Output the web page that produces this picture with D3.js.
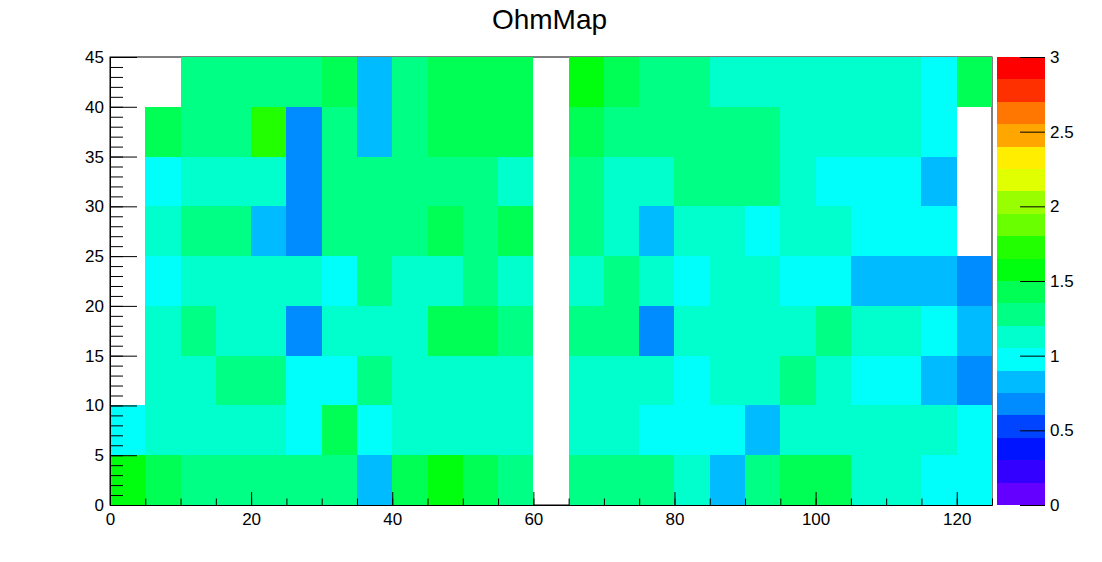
<!DOCTYPE html>
<html><head><meta charset="utf-8">
<script src="https://cdn.jsdelivr.net/npm/d3@7"></script>
<style>body{margin:0;background:#fff;} text{font-family:"Liberation Sans",Arial,Helvetica,sans-serif;}</style>
</head><body>
<svg id="c" width="1102" height="562"></svg>
<script>
// Bin edges
const xEdges = [0,5,10,15,20,25,30,35,40,45,50,55,60,65,70,75,80,85,90,95,100,105,110,115,120,125];
const yEdges = [0,5,10,15,20,25,30,35,40,45];
// Bin contents, one array per y-row (row 0 = y 0..5); 0 = empty bin
const row0 = [1.58,1.42,1.28,1.28,1.28,1.28,1.28,0.82,1.42,1.58,1.42,1.28,0,1.28,1.28,1.28,1.12,0.82,1.28,1.42,1.42,1.12,1.12,0.98,0.98];
const row1 = [0.98,1.12,1.12,1.12,1.12,0.98,1.42,0.98,1.12,1.12,1.12,1.12,0,1.12,1.12,0.98,0.98,0.98,0.82,1.12,1.12,1.12,1.12,1.12,0.98];
const row2 = [0,1.12,1.12,1.28,1.28,0.98,0.98,1.28,1.12,1.12,1.12,1.12,0,1.12,1.12,1.12,0.98,1.12,1.12,1.28,1.12,0.98,0.98,0.82,0.68];
const row3 = [0,1.12,1.28,1.12,1.12,0.68,1.12,1.12,1.12,1.42,1.42,1.28,0,1.28,1.28,0.68,1.12,1.12,1.12,1.12,1.28,1.12,1.12,0.98,0.82];
const row4 = [0,0.98,1.12,1.12,1.12,1.12,0.98,1.28,1.12,1.12,1.28,1.12,0,1.12,1.28,1.12,0.98,1.12,1.12,0.98,0.98,0.82,0.82,0.82,0.68];
const row5 = [0,1.12,1.28,1.28,0.82,0.68,1.28,1.28,1.28,1.42,1.28,1.42,0,1.28,1.12,0.82,1.12,1.12,0.98,1.12,1.12,0.98,0.98,0.98,0];
const row6 = [0,0.98,1.12,1.12,1.12,0.68,1.28,1.28,1.28,1.28,1.28,1.12,0,1.28,1.12,1.12,1.28,1.28,1.28,1.12,0.98,0.98,0.98,0.82,0];
const row7 = [0,1.42,1.28,1.28,1.72,0.68,1.28,0.82,1.28,1.42,1.42,1.42,0,1.42,1.28,1.28,1.28,1.28,1.28,1.12,1.12,1.12,1.12,0.98,0];
const row8 = [0,0,1.28,1.28,1.28,1.28,1.42,0.82,1.28,1.42,1.42,1.42,0,1.58,1.42,1.28,1.28,1.12,1.12,1.12,1.12,1.12,1.12,0.98,1.42];
const rows = [row0,row1,row2,row3,row4,row5,row6,row7,row8];
// Axis ticks
const xMajor = [0,20,40,60,80,100,120];
const yMajor = [0,5,10,15,20,25,30,35,40,45];
const zTicks = [0,0.5,1,1.5,2,2.5,3];
// Palette (20 contour levels over 0..3)
const palette = ["#6300ff","#3300ff","#0014ff","#0044ff","#008bff","#00bbff","#00fffb","#00ffcc","#00ff85","#00ff55",
                 "#00ff0e","#22ff00","#69ff00","#99ff00","#e0ff00","#ffee00","#ffa700","#ff7700","#ff3000","#ff0000"];
const zMin = 0, zMax = 3;

const svg = d3.select("#c");
const L = 110, R = 992, T = 57, B = 505;
const x = d3.scaleLinear().domain([0,125]).range([L,R]);
const y = d3.scaleLinear().domain([0,45]).range([B,T]);
const nLev = palette.length;
const color = v => palette[Math.max(0, Math.min(nLev-1, Math.floor((v - zMin)/(zMax - zMin)*nLev)))];

// Title
svg.append("text").attr("x",549.5).attr("y",29).attr("text-anchor","middle")
  .attr("font-size",28).text("OhmMap");

// frame
svg.append("rect").attr("x",L).attr("y",T).attr("width",R-L).attr("height",B-T)
  .attr("fill","none").attr("stroke","#000").attr("stroke-width",1);

// cells
const cells = [];
rows.forEach((r,j)=>r.forEach((v,i)=>{ if(v>0) cells.push({i,j,v}); }));
svg.append("g").selectAll("rect").data(cells).join("rect")
  .attr("x",d=>x(xEdges[d.i])).attr("y",d=>y(yEdges[d.j+1]))
  .attr("width",d=>x(xEdges[d.i+1])-x(xEdges[d.i]))
  .attr("height",d=>y(yEdges[d.j])-y(yEdges[d.j+1]))
  .attr("fill",d=>color(d.v)).attr("shape-rendering","crispEdges");

// x axis
const xMinor = d3.range(0,126,5);
svg.append("g").attr("transform",`translate(0,${B})`)
  .call(d3.axisBottom(x).tickValues(xMinor).tickSizeInner(-6.5).tickSizeOuter(0).tickFormat(""));
const gx = svg.append("g").attr("transform",`translate(0,${B})`)
  .call(d3.axisBottom(x).tickValues(xMajor).tickSizeInner(-13).tickSizeOuter(0).tickPadding(8));
gx.selectAll("text").attr("font-size",17).attr("fill","#000").attr("font-family","Liberation Sans, Arial, sans-serif");

// y axis
const yMinor = d3.range(0,46,1);
svg.append("g").attr("transform",`translate(${L},0)`)
  .call(d3.axisLeft(y).tickValues(yMinor).tickSizeInner(-13).tickSizeOuter(0).tickFormat(""));
const gy = svg.append("g").attr("transform",`translate(${L},0)`)
  .call(d3.axisLeft(y).tickValues(yMajor).tickSizeInner(-27).tickSizeOuter(0).tickPadding(6));
gy.selectAll("text").attr("font-size",17).attr("fill","#000").attr("font-family","Liberation Sans, Arial, sans-serif");

svg.selectAll(".domain").attr("stroke","#000");
svg.selectAll(".tick line").attr("stroke","#000");

// palette
const PL = 997, PR = 1045;
const z = d3.scaleLinear().domain([zMin,zMax]).range([B,T]);
const levels = d3.range(nLev).map(k=>({k, lo: zMin + k*(zMax-zMin)/nLev, hi: zMin + (k+1)*(zMax-zMin)/nLev}));
svg.append("g").selectAll("rect").data(levels).join("rect")
  .attr("x",PL).attr("width",PR-PL)
  .attr("y",d=>z(d.hi)).attr("height",d=>z(d.lo)-z(d.hi))
  .attr("fill",d=>palette[d.k]).attr("shape-rendering","crispEdges");
const gz = svg.append("g").attr("transform",`translate(${PR},0)`)
  .call(d3.axisRight(z).tickValues(zTicks).tickSizeInner(-25).tickSizeOuter(0).tickPadding(5).tickFormat(d3.format("")));
gz.select(".domain").remove();
gz.selectAll(".tick line").attr("stroke","#000");
gz.selectAll("text").attr("font-size",17).attr("fill","#000").attr("font-family","Liberation Sans, Arial, sans-serif");
</script>
</body></html>
